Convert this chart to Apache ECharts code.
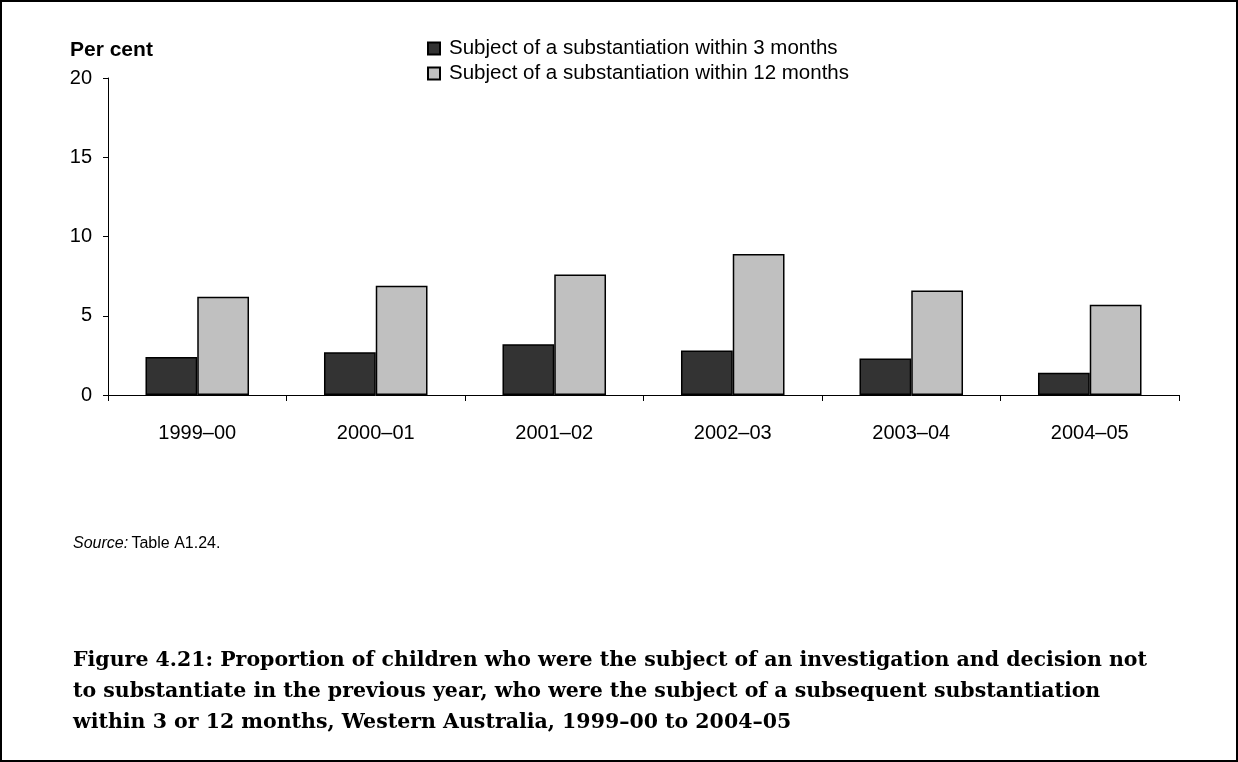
<!DOCTYPE html>
<html>
<head>
<meta charset="utf-8">
<script src="https://cdn.jsdelivr.net/npm/echarts@6/dist/echarts.min.js"></script>
<style>
html,body{margin:0;padding:0;background:#fff;}
#c{width:1238px;height:762px;}
</style>
</head>
<body>
<div id="c"></div>
<script>
const categories = ['1999–00','2000–01','2001–02','2002–03','2003–04','2004–05'];
const within3 = [2.4, 2.7, 3.2, 2.8, 2.3, 1.4];
const within12 = [6.2, 6.9, 7.6, 8.9, 6.6, 5.7];
const seriesNames = ['Subject of a substantiation within 3 months','Subject of a substantiation within 12 months'];
const yTicks = {min: 0, max: 20, interval: 5};
const yAxisTitle = 'Per cent';
const sourceNote = 'Table A1.24.';
const titleLines = [
  'Figure 4.21: Proportion of children who were the subject of an investigation and decision not',
  'to substantiate in the previous year, who were the subject of a subsequent substantiation',
  'within 3 or 12 months, Western Australia, 1999–00 to 2004–05'
];

const chart = echarts.init(document.getElementById('c'), null, {renderer:'canvas'});
const sans = 'Liberation Sans, Arial, sans-serif';
const serif = 'DejaVu Serif, serif';

const graphics = [
  {type:'rect', shape:{x:1,y:1,width:1236,height:760}, style:{fill:'none', stroke:'#000', lineWidth:2}, silent:true},
  {type:'text', left:70, top:40, style:{text:yAxisTitle, font:'bold 21px '+sans, fill:'#000'}},
  {type:'text', left:73, top:536, style:{rich:{i:{fontStyle:'italic', fontSize:16, fontFamily:sans, fill:'#000'}, n:{fontSize:16, fontFamily:sans, fill:'#000'}}, text:'{i|Source:} {n|'+sourceNote+'}'}}
];
titleLines.forEach((t,i)=>{
  graphics.push({type:'text', left:73, top:650+i*31, style:{text:t, font:'bold 20.5px '+serif, fill:'#000'}});
});

chart.setOption({
  animation:false,
  backgroundColor:'#fff',
  grid:{left:108, right:59, top:78, bottom:367, containLabel:false},
  legend:{
    orient:'vertical', left:422, top:33, itemWidth:12, itemHeight:12, itemGap:4,
    icon:'rect',
    textStyle:{fontSize:20.5, fontFamily:sans, color:'#000', padding:[0,0,0,4]},
    data:seriesNames
  },
  xAxis:{
    type:'category', data:categories, boundaryGap:true,
    axisLine:{lineStyle:{color:'#000', width:1}},
    axisTick:{show:true, length:6, lineStyle:{color:'#000'}},
    axisLabel:{color:'#000', fontSize:20, fontFamily:sans, margin:28}
  },
  yAxis:{
    type:'value', min:yTicks.min, max:yTicks.max, interval:yTicks.interval,
    axisLine:{show:true, lineStyle:{color:'#000', width:1}},
    axisTick:{show:true, length:5, lineStyle:{color:'#000'}},
    axisLabel:{color:'#000', fontSize:20, fontFamily:sans, margin:16},
    splitLine:{show:false}
  },
  series:[
    {name:seriesNames[0], type:'bar', data:within3, barGap:'0%', barCategoryGap:'42%',
     itemStyle:{color:'#333333', borderColor:'#000', borderWidth:1.5}},
    {name:seriesNames[1], type:'bar', data:within12, barGap:'0%', barCategoryGap:'42%',
     itemStyle:{color:'#c0c0c0', borderColor:'#000', borderWidth:1.5}}
  ],
  graphic:graphics
});
</script>
</body>
</html>
